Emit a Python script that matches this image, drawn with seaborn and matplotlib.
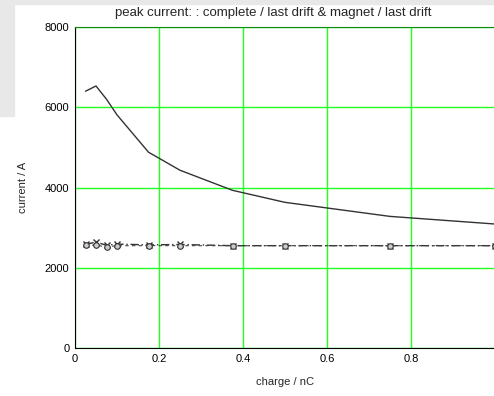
import matplotlib
matplotlib.use("Agg")
import matplotlib.pyplot as plt
import seaborn as sns
import pandas as pd
from matplotlib.patches import Rectangle

charge = [0.025, 0.05, 0.075, 0.1, 0.175, 0.25, 0.375, 0.5, 0.75, 1.0]
complete = [6400, 6530, 6200, 5810, 4880, 4430, 3930, 3630, 3280, 3090]
drift_magnet = [2580, 2640, 2560, 2590, 2570, 2580, 2550, 2550, 2550, 2550]
drift = [2570, 2560, 2520, 2550, 2550, 2550, 2550, 2550, 2550, 2550]

title = "peak current: : complete / last drift & magnet / last drift"
xlabel = "charge / nC"
ylabel = "current / A"
xticks = [0, 0.2, 0.4, 0.6, 0.8]
yticks = [0, 2000, 4000, 6000, 8000]

sns.set_style("white")
plt.rcParams['font.family'] = ['Liberation Sans', 'DejaVu Sans']

fig = plt.figure(figsize=(4.94, 3.96), dpi=100)
fig.patches.append(Rectangle((0, 1 - 4/396), 1, 4/396, transform=fig.transFigure,
                             color="#e8e8e8", zorder=0))
fig.patches.append(Rectangle((0, 1 - 116/396), 14/494, 116/396, transform=fig.transFigure,
                             color="#e8e8e8", zorder=0))
ax = fig.add_axes([75/494, 1 - 348/396, 420/494, 321/396])
ax.patch.set_alpha(0)

df = pd.DataFrame({"charge": charge, "complete": complete,
                   "drift_magnet": drift_magnet, "drift": drift})

sns.lineplot(data=df, x="charge", y="complete", ax=ax, color="#333333", lw=1.0)
sns.lineplot(data=df, x="charge", y="drift_magnet", ax=ax, color="#333333", lw=1.0,
             marker="x", markersize=4.5, markeredgecolor="#333333", markeredgewidth=1.0,
             linestyle=(0, (6, 2, 1, 2)))
sns.lineplot(data=df, x="charge", y="drift", ax=ax, color="#444444", lw=0.8,
             marker="o", markersize=4, markerfacecolor="#cccccc", markeredgecolor="#333333",
             markeredgewidth=0.8, linestyle=(0, (3, 3)))

ax.set_xlim(0, 1.0)
ax.set_ylim(0, 8000)
ax.set_xticks(xticks)
ax.set_xticklabels(["0", "0.2", "0.4", "0.6", "0.8"])
ax.set_yticks(yticks)
ax.set_yticklabels([str(v) for v in yticks])
ax.grid(True, color="#22ff22", lw=1.0)
ax.set_axisbelow(True)
ax.spines["right"].set_visible(False)
ax.spines["top"].set_color("#118811")
ax.spines["left"].set_color("black")
ax.spines["bottom"].set_color("black")
ax.tick_params(axis="both", labelsize=8, length=0, colors="black", pad=4)
ax.set_xlabel(xlabel, fontsize=8, labelpad=10)
ax.set_ylabel(ylabel, fontsize=8, labelpad=12)
ax.set_title(title, fontsize=9.5, pad=8, x=0.471)

fig.savefig("out.png", dpi=100)
